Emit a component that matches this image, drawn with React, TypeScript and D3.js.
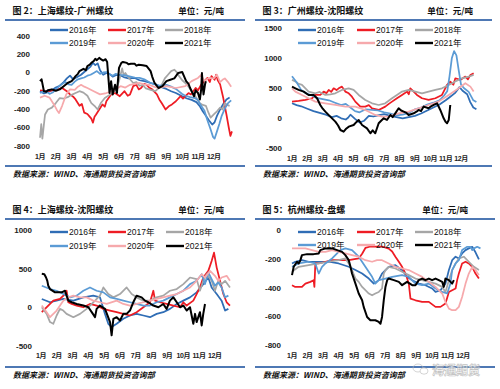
import React from 'react';
import * as d3 from 'd3';

type Pt = [number, number]; // [month offset from 1 Jan, 元/吨]

const MONTH_LABELS = ['1月', '2月', '3月', '4月', '5月', '6月', '7月', '8月', '9月', '10月', '11月', '12月'];
const SERIES_NAMES = ['2016年', '2017年', '2018年', '2019年', '2020年', '2021年'];
const SERIES_COLORS = ['#2f6db5', '#ee1c24', '#a6a6a6', '#5b9bd5', '#f6a9ac', '#000000'];

// ---------- 图2 上海螺纹-广州螺纹 ----------
const P1_2016: Pt[] = [[0,-200],[0.25,-225],[0.5,-210],[0.75,-190],[1.0,-160],[1.25,-140],[1.5,-100],[1.7,-60],[1.9,-30],[2.1,-70],[2.3,-50],[2.6,-20],[2.8,10],[3.0,40],[3.2,70],[3.35,110],[3.5,85],[3.65,105],[3.8,30],[4.0,-20],[4.2,0],[4.4,-10],[4.6,-40],[4.8,-25],[5.0,-20],[5.3,-45],[5.6,-60],[6.0,-55],[6.3,-80],[6.6,-90],[7.0,-110],[7.3,-125],[7.6,-150],[8.0,-175],[8.3,-200],[8.6,-220],[9.0,-255],[9.3,-280],[9.6,-295],[9.9,-320],[10.1,-360],[10.3,-420],[10.5,-470],[10.7,-520],[10.9,-565],[11.05,-540],[11.2,-470],[11.4,-400],[11.6,-340],[11.8,-290],[12.0,-270]];
const P1_2017: Pt[] = [[0,-190],[0.5,-200],[1.0,-185],[1.4,-165],[1.7,-200],[1.9,-235],[2.1,-260],[2.25,-290],[2.5,-360],[2.65,-340],[2.8,-435],[3.0,-450],[3.1,-470],[3.25,-500],[3.35,-545],[3.45,-480],[3.55,-455],[3.75,-400],[3.95,-345],[4.1,-370],[4.2,-310],[4.5,-235],[4.75,-220],[5.05,-255],[5.35,-200],[5.55,-250],[5.7,-235],[5.9,-145],[6.1,-130],[6.25,-180],[6.4,-165],[6.6,-120],[6.75,-130],[6.9,-160],[7.1,-180],[7.4,-235],[7.55,-290],[7.7,-330],[7.95,-400],[8.15,-365],[8.35,-345],[8.6,-310],[8.9,-255],[9.05,-280],[9.2,-255],[9.4,-220],[9.55,-235],[9.85,-165],[10.0,-190],[10.2,-130],[10.4,-90],[10.6,-55],[10.75,-100],[10.85,-35],[11.05,-75],[11.15,-20],[11.25,-80],[11.4,-125],[11.6,-275],[11.8,-455],[11.95,-600],[12.05,-690],[12.15,-640]];
const P1_2018: Pt[] = [[0,-710],[0.08,-560],[0.15,-720],[0.25,-560],[0.32,-455],[0.5,-400],[0.75,-380],[1.0,-330],[1.25,-275],[1.5,-280],[1.75,-265],[2.0,-240],[2.25,-220],[2.5,-200],[2.75,-215],[3.0,-250],[3.25,-330],[3.5,-370],[3.65,-400],[3.85,-330],[4.1,-275],[4.4,-240],[4.7,-200],[4.85,-160],[5.0,-90],[5.1,-20],[5.2,50],[5.3,-30],[5.4,0],[5.6,-50],[5.9,-110],[6.1,-100],[6.3,-140],[6.5,-130],[6.7,-170],[7.0,-185],[7.3,-200],[7.5,-170],[7.7,-130],[7.9,-60],[8.1,-20],[8.3,20],[8.5,35],[8.65,10],[8.8,-35],[9.0,-80],[9.2,-110],[9.4,-150],[9.6,-200],[9.85,-260],[10.1,-330],[10.3,-350],[10.5,-360],[10.65,-430],[10.8,-490],[11.0,-455],[11.2,-420],[11.4,-380],[11.55,-400],[11.7,-330],[11.85,-350],[12.0,-360]];
const P1_2019: Pt[] = [[0,-220],[0.2,-205],[0.4,-200],[0.6,-230],[0.8,-215],[1.0,-180],[1.2,-150],[1.4,-120],[1.6,-100],[1.8,-125],[2.0,-130],[2.2,-95],[2.4,-70],[2.6,-60],[2.8,-50],[3.0,-30],[3.2,-20],[3.4,0],[3.6,20],[3.8,-10],[4.0,5],[4.2,10],[4.4,-15],[4.6,-30],[4.8,-10],[5.0,-20],[5.3,-25],[5.6,-35],[6.0,-50],[6.3,-55],[6.6,-70],[7.0,-110],[7.3,-125],[7.6,-140],[8.0,-130],[8.3,-150],[8.6,-175],[9.0,-230],[9.2,-250],[9.5,-265],[9.8,-275],[10.0,-300],[10.2,-360],[10.4,-410],[10.6,-520],[10.8,-620],[10.95,-700],[11.05,-720],[11.2,-640],[11.35,-560],[11.5,-470],[11.7,-390],[11.9,-330],[12.1,-300]];
const P1_2020: Pt[] = [[0,-270],[0.3,-250],[0.6,-270],[0.9,-350],[1.05,-400],[1.2,-440],[1.4,-360],[1.65,-240],[1.9,-180],[2.2,-185],[2.4,-150],[2.6,-130],[2.8,-150],[3.0,-165],[3.4,-200],[3.8,-235],[4.2,-220],[4.6,-200],[5.1,-145],[5.4,-160],[5.7,-130],[6.0,-120],[6.3,-110],[6.6,-125],[6.9,-130],[7.2,-150],[7.5,-165],[8.0,-145],[8.3,-155],[8.6,-165],[9.2,-145],[9.6,-90],[10.0,-55],[10.2,-20],[10.4,-90],[10.55,-70],[10.7,-55],[11.0,-60],[11.2,-20],[11.4,-100],[11.55,-75],[11.7,-60],[11.9,-100],[12.1,-150]];
const P1_2021: Pt[] = [[0,-90],[0.1,-70],[0.25,-200],[0.4,-205],[0.5,-190],[0.75,-180],[1.0,-195],[1.25,-180],[1.5,-145],[1.75,-110],[2.0,-90],[2.1,-70],[2.25,-35],[2.4,-10],[2.5,20],[2.75,45],[2.9,30],[3.0,75],[3.15,90],[3.25,110],[3.4,130],[3.5,155],[3.6,140],[3.75,165],[3.85,150],[4.0,135],[4.15,150],[4.25,120],[4.35,-100],[4.4,-220],[4.5,-90],[4.6,-235],[4.75,-130],[4.87,-220],[5.0,55],[5.15,110],[5.25,120],[5.5,110],[5.6,95],[5.75,100],[6.0,100],[6.1,80],[6.25,90],[6.5,85],[6.75,75],[7.0,20],[7.1,-40],[7.25,-110],[7.5,-165],[7.75,-145],[8.0,-90],[8.25,-75],[8.5,-60],[8.75,0],[9.0,10],[9.1,-30],[9.25,-90],[9.4,-120],[9.5,-165],[9.6,-200],[9.75,-255],[9.85,-190],[10.0,-220],[10.12,-290],[10.2,-180],[10.25,0],[10.3,-150],[10.35,-235],[10.45,-120],[10.5,-90]];

// ---------- 图3 广州螺纹-沈阳螺纹 ----------
const P2_2016: Pt[] = [[0,250],[0.3,220],[0.6,200],[1.0,160],[1.4,120],[1.8,90],[2.2,60],[2.6,20],[2.9,40],[3.2,0],[3.5,-20],[3.65,10],[3.8,60],[4.1,-10],[4.4,-70],[4.7,-40],[5.0,40],[5.3,30],[5.6,50],[6.0,70],[6.4,40],[6.8,20],[7.2,0],[7.6,20],[8.0,40],[8.4,80],[8.8,130],[9.2,180],[9.6,230],[10.0,300],[10.3,360],[10.6,420],[10.9,520],[11.1,460],[11.4,400],[11.6,270],[11.8,180],[12.0,150]];
const P2_2017: Pt[] = [[0,278],[0.43,289],[0.87,306],[1.3,334],[1.52,389],[1.84,389],[2.06,445],[2.25,420],[2.39,473],[2.55,440],[2.71,500],[2.9,470],[3.04,500],[3.25,528],[3.47,445],[3.69,417],[3.9,361],[4.12,278],[4.45,195],[4.77,195],[5.0,220],[5.21,167],[5.64,139],[6.07,195],[6.3,240],[6.51,278],[6.83,334],[7.16,389],[7.35,420],[7.48,445],[7.6,400],[7.7,500],[7.92,445],[8.13,389],[8.46,334],[8.89,306],[9.33,334],[9.76,389],[10.09,556],[10.3,612],[10.5,560],[10.63,667],[10.95,640],[11.28,695],[11.45,650],[11.61,723],[11.82,750]];
const P2_2018: Pt[] = [[0,640],[0.22,612],[0.4,580],[0.65,556],[1.08,445],[1.52,417],[1.8,440],[2.17,389],[2.5,400],[2.82,417],[3.25,473],[3.69,500],[4.01,473],[4.34,389],[4.77,306],[5.21,250],[5.64,222],[6.07,250],[6.51,334],[6.83,389],[7.16,445],[7.59,473],[8.03,445],[8.46,417],[8.89,445],[9.33,473],[9.76,500],[10.2,556],[10.63,612],[11.06,667],[11.5,695],[11.82,723]];
const P2_2019: Pt[] = [[0,700],[0.15,650],[0.3,600],[0.6,470],[0.9,420],[1.3,380],[1.6,340],[2.0,320],[2.4,300],[2.8,260],[3.2,220],[3.5,240],[3.8,180],[4.1,120],[4.4,100],[4.8,150],[5.2,140],[5.6,130],[6.0,100],[6.4,80],[6.8,50],[7.2,60],[7.6,90],[8.0,150],[8.4,180],[8.8,230],[9.2,260],[9.6,300],[9.9,380],[10.1,450],[10.25,700],[10.4,1000],[10.55,1120],[10.7,1050],[10.85,800],[11.0,560],[11.2,500],[11.5,440],[11.8,300],[12.0,270]];
const P2_2020: Pt[] = [[0,500],[0.22,445],[0.65,389],[1.08,334],[1.52,278],[2.17,250],[2.82,222],[3.47,195],[4.12,195],[4.77,139],[5.42,56],[5.86,28],[6.29,28],[6.94,83],[7.59,111],[8.24,167],[8.89,222],[9.54,278],[10.2,389],[10.85,500],[11.28,584],[11.61,528],[11.82,445]];
const P2_2021: Pt[] = [[0,528],[0.22,500],[0.43,473],[0.76,445],[1.08,389],[1.41,389],[1.63,334],[1.84,222],[2.0,160],[2.17,111],[2.49,28],[2.82,-56],[3.0,-120],[3.15,-195],[3.36,-222],[3.5,-180],[3.69,-139],[4.01,-111],[4.2,-60],[4.34,-28],[4.56,-111],[4.88,-167],[5.1,-250],[5.25,-200],[5.42,-250],[5.64,-83],[5.8,-40],[5.97,0],[6.18,-28],[6.4,56],[6.55,20],[6.72,83],[6.94,167],[7.1,130],[7.27,111],[7.45,90],[7.59,56],[7.92,83],[8.1,110],[8.24,139],[8.4,120],[8.57,195],[8.89,167],[9.05,200],[9.22,222],[9.44,250],[9.65,139],[9.87,0],[10.0,-60],[10.09,-83],[10.2,-28],[10.3,222]];

// ---------- 图4 上海螺纹-沈阳螺纹 ----------
const P3_2016: Pt[] = [[0.05,112],[0.57,69],[0.99,90],[1.41,112],[2.05,90],[2.68,133],[3.31,155],[3.73,133],[4.05,-82],[4.26,-211],[4.47,-254],[4.79,-211],[5.21,-146],[5.63,-103],[6.05,-82],[6.48,-103],[6.9,-125],[7.32,-82],[7.74,-60],[8.16,-17],[8.59,47],[9.01,90],[9.43,133],[9.85,198],[10.27,305],[10.59,391],[10.8,262],[11.12,176],[11.43,90],[11.65,-39],[11.86,-17]];
const P3_2017: Pt[] = [[0.05,-60],[0.46,26],[0.78,90],[1.2,112],[1.52,176],[1.62,219],[1.73,69],[1.94,47],[2.26,26],[2.68,4],[3.1,47],[3.52,26],[3.95,-17],[4.37,-39],[4.79,-60],[5.21,-82],[5.63,-103],[6.05,-60],[6.48,4],[6.9,69],[7.11,219],[7.22,90],[7.53,69],[7.95,47],[8.38,26],[8.8,4],[9.01,69],[9.22,26],[9.64,90],[9.85,176],[10.06,262],[10.27,391],[10.59,477],[10.8,606],[10.95,714],[11.12,520],[11.33,348],[11.54,176],[11.75,69],[11.96,26]];
const P3_2018: Pt[] = [[0.05,4],[0.36,-82],[0.57,-189],[0.78,-211],[0.99,-103],[1.2,-17],[1.41,-39],[1.62,-82],[2.05,-125],[2.47,-82],[2.89,-17],[3.31,69],[3.73,155],[3.95,262],[4.26,176],[4.58,133],[5.0,176],[5.42,262],[5.74,176],[6.05,133],[6.48,90],[6.9,90],[7.32,133],[7.74,155],[8.16,219],[8.59,241],[9.01,305],[9.43,391],[9.85,370],[10.06,219],[10.27,348],[10.49,434],[10.8,348],[11.01,219],[11.22,348],[11.43,305],[11.65,348],[11.96,262]];
const P3_2019: Pt[] = [[0.05,284],[0.57,241],[0.99,219],[1.41,176],[1.84,133],[2.26,155],[2.68,219],[3.1,262],[3.52,219],[3.95,198],[4.37,133],[4.79,112],[5.21,90],[5.63,69],[6.05,47],[6.48,26],[6.9,26],[7.32,69],[7.74,90],[8.16,133],[8.59,176],[9.01,219],[9.43,305],[9.85,348],[10.17,434],[10.38,305],[10.59,456],[10.8,370],[11.01,284],[11.22,327],[11.43,262],[11.65,133],[11.86,155]];
const P3_2020: Pt[] = [[0.05,26],[0.36,-60],[0.57,-125],[0.99,-39],[1.41,90],[1.73,133],[2.05,155],[2.47,133],[2.89,133],[3.31,90],[3.73,69],[4.16,47],[4.79,90],[5.21,47],[5.63,26],[6.05,47],[6.48,69],[6.9,90],[7.32,112],[7.74,133],[8.16,155],[8.59,176],[9.01,219],[9.43,262],[9.85,348],[10.17,434],[10.38,391],[10.7,477],[11.01,413],[11.22,348],[11.43,391],[11.75,413],[11.96,348]];
const P3_2021: Pt[] = [[0.05,440],[0.21,434],[0.32,391],[0.4,348],[0.46,284],[0.57,241],[0.89,198],[1.31,198],[1.52,219],[1.62,155],[1.73,90],[1.94,69],[2.26,47],[2.68,26],[3.0,4],[3.21,-60],[3.42,-125],[3.52,-17],[3.73,26],[4.05,-17],[4.37,-189],[4.47,-361],[4.58,-146],[4.79,-125],[5.0,-168],[5.21,-82],[5.42,-82],[5.63,-39],[5.84,69],[6.05,155],[6.37,133],[6.58,90],[6.79,69],[7.11,26],[7.43,4],[7.74,47],[7.95,-17],[8.16,90],[8.38,133],[8.59,69],[8.8,4],[9.01,26],[9.22,-39],[9.43,4],[9.64,-211],[9.75,-82],[9.85,-189],[10.06,-60],[10.17,-232],[10.27,-82],[10.38,47]];

// ---------- 图5 杭州螺纹-盘螺 ----------
const P4_2016: Pt[] = [[0,-228],[0.21,-216],[0.64,-205],[1.07,-216],[1.72,-216],[2.36,-216],[3.0,-228],[3.65,-251],[4.08,-274],[4.51,-298],[4.94,-333],[5.26,-368],[5.58,-344],[5.79,-298],[6.22,-251],[6.65,-240],[7.08,-274],[7.4,-321],[7.73,-344],[8.15,-368],[8.58,-379],[9.01,-402],[9.23,-426],[9.55,-414],[9.87,-368],[10.09,-274],[10.3,-205],[10.52,-181],[10.73,-193],[10.94,-158],[11.16,-135],[11.37,-123],[11.59,-112],[11.8,-150],[12.02,-200]];
const P4_2017: Pt[] = [[0,-379],[0.21,-391],[0.64,-391],[0.86,-368],[1.18,-356],[1.39,-344],[1.44,-391],[1.5,-228],[1.72,-228],[2.15,-216],[2.58,-205],[3.0,-205],[3.65,-205],[4.29,-193],[4.51,-160],[4.72,-120],[5.04,-110],[5.36,-110],[5.79,-110],[6.22,-125],[6.44,-145],[6.65,-181],[6.87,-216],[7.08,-251],[7.3,-298],[7.51,-368],[7.62,-472],[7.94,-484],[8.37,-495],[8.8,-495],[9.23,-530],[9.55,-530],[9.87,-507],[10.09,-426],[10.3,-414],[10.52,-402],[10.62,-344],[10.73,-298],[10.94,-228],[11.16,-216],[11.37,-228],[11.59,-251],[11.8,-298],[12.02,-333]];
const P4_2018: Pt[] = [[0,-286],[0.43,-251],[1.07,-240],[1.72,-228],[2.36,-216],[3.0,-205],[3.43,-193],[3.65,-228],[3.86,-274],[4.08,-333],[4.29,-356],[4.51,-391],[4.72,-414],[4.94,-437],[5.15,-449],[5.36,-437],[5.58,-426],[5.79,-402],[5.9,-298],[6.01,-274],[6.22,-251],[6.65,-263],[7.08,-286],[7.51,-309],[7.94,-333],[8.37,-344],[8.8,-356],[9.23,-368],[9.66,-391],[9.87,-426],[10.09,-344],[10.3,-274],[10.52,-228],[10.73,-193],[11.05,-181],[11.37,-216],[11.7,-251],[12.02,-274]];
const P4_2019: Pt[] = [[0,-251],[0.43,-228],[1.07,-216],[1.5,-228],[1.72,-298],[1.93,-251],[2.15,-228],[2.58,-193],[3.11,-135],[3.43,-123],[3.86,-135],[4.29,-181],[4.72,-251],[5.15,-321],[5.36,-368],[5.58,-344],[6.01,-333],[6.44,-321],[7.08,-309],[7.51,-321],[7.94,-368],[8.37,-379],[8.8,-368],[9.23,-402],[9.66,-426],[9.98,-437],[10.19,-368],[10.3,-274],[10.52,-228],[10.73,-205],[10.94,-135],[11.27,-112],[11.48,-112],[11.59,-135],[11.7,-123],[11.91,-112],[12.12,-123]];
const P4_2020: Pt[] = [[0,-123],[0.43,-123],[0.86,-123],[1.29,-135],[1.72,-147],[2.15,-147],[2.58,-135],[3.0,-147],[3.43,-158],[3.86,-170],[4.29,-181],[4.72,-205],[5.15,-216],[5.47,-205],[5.79,-205],[6.22,-228],[6.65,-251],[7.08,-263],[7.51,-274],[7.94,-298],[8.37,-321],[8.8,-356],[9.23,-391],[9.66,-437],[9.87,-495],[10.09,-542],[10.3,-553],[10.52,-553],[10.73,-530],[10.94,-461],[11.16,-368],[11.37,-298],[11.59,-251],[11.8,-274],[12.02,-309]];
const P4_2021: Pt[] = [[0,-309],[0.11,-251],[0.32,-216],[0.43,-228],[0.54,-205],[0.64,-170],[0.97,-163],[1.39,-163],[1.72,-158],[1.82,-135],[2.15,-123],[2.58,-123],[2.9,-135],[3.22,-147],[3.43,-170],[3.65,-205],[3.76,-251],[3.86,-298],[4.08,-368],[4.29,-437],[4.51,-484],[4.61,-530],[4.83,-600],[5.04,-623],[5.36,-623],[5.58,-635],[5.69,-647],[5.79,-600],[5.9,-484],[6.01,-391],[6.12,-344],[6.22,-333],[6.55,-344],[6.87,-356],[7.08,-379],[7.4,-356],[7.73,-379],[7.94,-379],[8.15,-344],[8.37,-333],[8.58,-344],[8.8,-333],[9.01,-344],[9.23,-333],[9.44,-344],[9.66,-356],[9.76,-391],[9.87,-333],[10.09,-344],[10.3,-368],[10.41,-344]];

const P1_TICKS = [-800, -600, -400, -200, 0, 200, 400];
const P2_TICKS = [-500, 0, 500, 1000, 1500];
const P3_TICKS = [-500, 0, 500, 1000];
const P4_TICKS = [-800, -600, -400, -200, 0];

const PANELS = [
  {
    title: '图 2：上海螺纹-广州螺纹', series: [P1_2016, P1_2017, P1_2018, P1_2019, P1_2020, P1_2021],
    yDomain: [-800, 400], ticks: P1_TICKS,
    left: 5, right: 245, titleY: 10, ruleY: 20, unitX: 224, legendX: [50, 108, 165], legendY: [30, 43],
    plotL: 40, plotR: 229.6, plotT: 36.4, plotB: 146, yLabelX: 30, xLabelY: 156, ruleBottomY: 166, sourceY: 173,
  },
  {
    title: '图 3：广州螺纹-沈阳螺纹', series: [P2_2016, P2_2017, P2_2018, P2_2019, P2_2020, P2_2021],
    yDomain: [-500, 1500], ticks: P2_TICKS,
    left: 255, right: 492, titleY: 10, ruleY: 20, unitX: 473, legendX: [298, 357, 415], legendY: [30, 43],
    plotL: 292, plotR: 476.4, plotT: 28.3, plotB: 148.3, yLabelX: 282, xLabelY: 158, ruleBottomY: 166, sourceY: 173,
  },
  {
    title: '图 4：上海螺纹-沈阳螺纹', series: [P3_2016, P3_2017, P3_2018, P3_2019, P3_2020, P3_2021],
    yDomain: [-500, 1000], ticks: P3_TICKS,
    left: 5, right: 245, titleY: 209, ruleY: 219, unitX: 224, legendX: [50, 108, 166], legendY: [232, 246],
    plotL: 41, plotR: 230.6, plotT: 230.7, plotB: 346, yLabelX: 32, xLabelY: 355, ruleBottomY: 367, sourceY: 374,
  },
  {
    title: '图 5：杭州螺纹-盘螺', series: [P4_2016, P4_2017, P4_2018, P4_2019, P4_2020, P4_2021],
    yDomain: [-800, 0], ticks: P4_TICKS,
    left: 255, right: 495, titleY: 209, ruleY: 219, unitX: 468, legendX: [298, 357, 415], legendY: [232, 245],
    plotL: 292, plotR: 478.6, plotT: 230.7, plotB: 345.7, yLabelX: 281, xLabelY: 355, ruleBottomY: 367, sourceY: 374,
  },
];

const LATIN = "'Liberation Sans', Arial, 'Noto Sans CJK SC', sans-serif";
const CJK = "'Noto Sans CJK SC', 'Liberation Sans', sans-serif";
const RULE = '#4e78b4';

function Panel({ p }: { p: (typeof PANELS)[number] }) {
  const x = d3.scaleLinear().domain([0, 12]).range([p.plotL, p.plotR]);
  const y = d3.scaleLinear().domain(p.yDomain).range([p.plotB, p.plotT]);
  const line = d3.line<Pt>().x((d) => x(d[0])).y((d) => y(d[1]));
  return (
    <g>
      <text x={p.left + 7.5} y={p.titleY} dominantBaseline="central" fontFamily={CJK} fontWeight={700} fontSize={9} fill="#111">{p.title}</text>
      <text x={p.unitX} y={p.titleY} dominantBaseline="central" textAnchor="end" fontFamily={CJK} fontWeight={700} fontSize={8.5} fill="#111">单位：元/吨</text>
      <line x1={p.left} x2={p.right} y1={p.ruleY} y2={p.ruleY} stroke={RULE} strokeWidth={2} />
      {p.ticks.map((t) => (
        <text key={t} x={p.yLabelX} y={y(t)} textAnchor="end" dominantBaseline="central" fontFamily={LATIN} fontWeight={700} fontSize={8} fill="#222">{t}</text>
      ))}
      {MONTH_LABELS.map((m, i) => (
        <text key={m} x={x(i)} y={p.xLabelY} textAnchor="middle" dominantBaseline="central" fontFamily={LATIN} fontWeight={700} fontSize={7} letterSpacing={-0.4} fill="#222">{m}</text>
      ))}
      {p.series.map((s, i) => (
        <path key={i} d={line(s) || ''} fill="none" stroke={SERIES_COLORS[i]} strokeWidth={i === 5 ? 2 : 1.75} strokeLinejoin="round" />
      ))}
      {SERIES_NAMES.map((n, i) => {
        const lx = p.legendX[i % 3];
        const ly = p.legendY[Math.floor(i / 3)];
        return (
          <g key={n}>
            <line x1={lx} x2={lx + 18} y1={ly} y2={ly} stroke={SERIES_COLORS[i]} strokeWidth={2.4} />
            <text x={lx + 19} y={ly} dominantBaseline="central" fontFamily={LATIN} fontSize={8.5} fill="#111">{n}</text>
          </g>
        );
      })}
      <line x1={p.left} x2={p.right} y1={p.ruleBottomY} y2={p.ruleBottomY} stroke={RULE} strokeWidth={2} />
      <text x={p.left + 8} y={p.sourceY} dominantBaseline="central" fontFamily={CJK} fontWeight={700} fontSize={8} fontStyle="italic" fill="#111">数据来源：WIND、海通期货投资咨询部</text>
    </g>
  );
}

export default function App() {
  return (
    <svg width={500} height={389} style={{ position: 'absolute', left: 0, top: 0, background: '#fff' }}>
      <rect x={0} y={0} width={500} height={389} fill="#fff" />
      {PANELS.map((p, i) => (
        <Panel key={i} p={p} />
      ))}
      <g opacity={0.75}>
        <ellipse cx={418} cy={368} rx={5} ry={4} fill="none" stroke="#b8b8b8" strokeWidth={0.8} />
        <ellipse cx={424} cy={371} rx={4} ry={3.2} fill="#fff" stroke="#b8b8b8" strokeWidth={0.8} />
        <text x={432} y={375} fontFamily={CJK} fontSize={12} fontWeight={700} fill="#fff" stroke="#b0b0b0" strokeWidth={0.7}>海通期货</text>
      </g>
    </svg>
  );
}
